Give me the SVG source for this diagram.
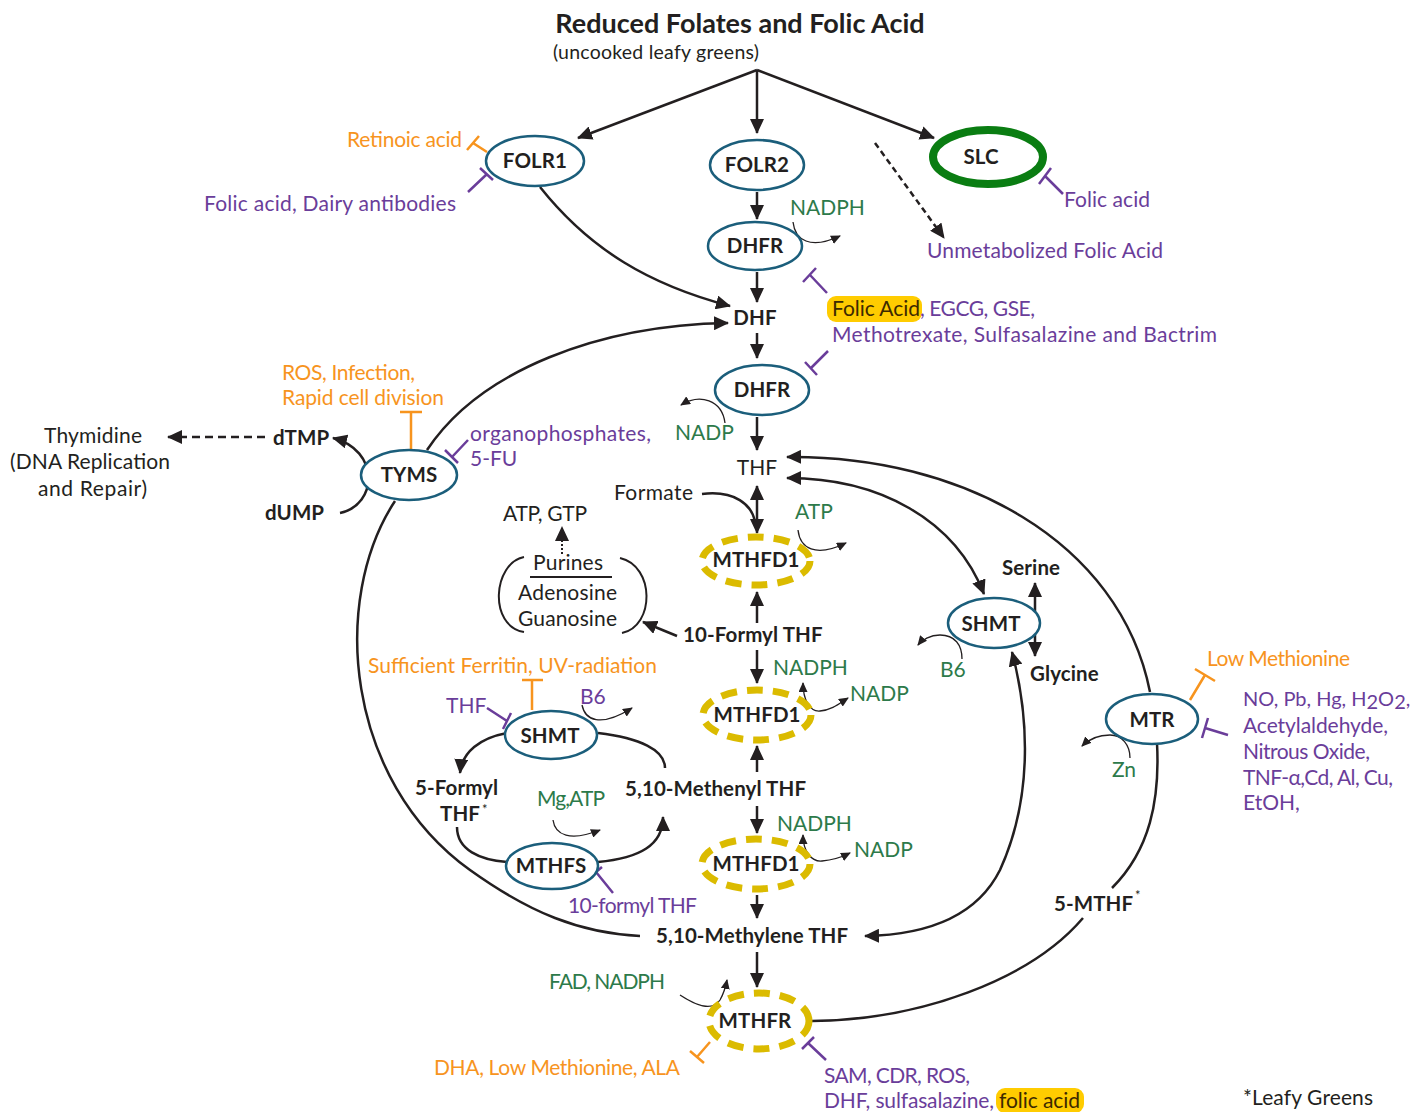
<svg xmlns="http://www.w3.org/2000/svg" width="1428" height="1112" viewBox="0 0 1428 1112">
<defs>
<style>
text{font-family:Lato,"Liberation Sans",sans-serif;font-size:21px}
.b{font-weight:700;fill:#231f20;font-size:20.5px;letter-spacing:0.1px}
.k{fill:#231f20}
.p{fill:#6a3d9a}
.g{fill:#2d7a4a}
.o{fill:#f7941e}
.h{fill:#3d2a00}
.n{fill:#fff;stroke:#1b5e7b;stroke-width:2.5}
.y{fill:#fff;stroke:#dbbb00;stroke-width:7;stroke-dasharray:16 10}
.c{fill:none;stroke:#231f20;stroke-width:2.5}
.th{fill:none;stroke:#231f20;stroke-width:1.3}
.ip{fill:none;stroke:#6a3d9a;stroke-width:2.5}
.io{fill:none;stroke:#f7941e;stroke-width:2.5}
</style>
<marker id="a" markerUnits="userSpaceOnUse" markerWidth="16" markerHeight="14" refX="14" refY="7" orient="auto-start-reverse"><path d="M0,0 L15,7 L0,14 z" fill="#231f20"/></marker>
<marker id="s" markerUnits="userSpaceOnUse" markerWidth="10" markerHeight="9" refX="9" refY="4.5" orient="auto-start-reverse"><path d="M0,0 L10,4.5 L0,9 z" fill="#231f20"/></marker>
</defs>
<rect width="1428" height="1112" fill="#fff"/>

<g id="title">
<text x="740" y="33" text-anchor="middle" class="b" style="font-size:27px;letter-spacing:0">Reduced Folates and Folic Acid</text>
<text x="553" y="59" class="k" style="font-size:19.5px" textLength="206">(uncooked leafy greens)</text>
</g>

<g id="connectors">
<path class="c" d="M757,70 L578,138" marker-end="url(#a)"/>
<path class="c" d="M757,70 L757,133" marker-end="url(#a)"/>
<path class="c" d="M757,70 L934,138" marker-end="url(#a)"/>
<path class="c" d="M875,143 L944,238" stroke-dasharray="6 4" marker-end="url(#a)"/>
<path class="c" d="M757,192 L757,219" marker-end="url(#a)"/>
<path class="c" d="M757,272 L757,302" marker-end="url(#a)"/>
<path class="c" d="M540,187 C590,250 650,285 730,306" marker-end="url(#a)"/>
<path class="c" d="M427,450 C480,370 600,325 728,323" marker-end="url(#a)"/>
<path class="c" d="M757,333 L757,358" marker-end="url(#a)"/>
<path class="c" d="M757,417 L757,450" marker-end="url(#a)"/>
<path class="c" d="M757,486 L757,533" marker-start="url(#a)" marker-end="url(#a)"/>
<path class="c" d="M702,494 C735,490 752,505 755,522"/>
<path class="c" d="M757,623 L757,592" marker-end="url(#a)"/>
<path class="c" d="M757,650 L757,683" marker-end="url(#a)"/>
<path class="c" d="M757,772 L757,746" marker-end="url(#a)"/>
<path class="c" d="M757,806 L757,833" marker-end="url(#a)"/>
<path class="c" d="M757,895 L757,918" marker-end="url(#a)"/>
<path class="c" d="M757,952 L757,987" marker-end="url(#a)"/>
<path class="c" d="M677,636 L643,622" marker-end="url(#a)"/>
<path d="M562,554 L562,527" fill="none" stroke="#231f20" stroke-width="2" stroke-dasharray="2 2" marker-end="url(#a)"/>
<path class="c" d="M787,478 C880,478 955,520 984,594" marker-start="url(#a)" marker-end="url(#a)"/>
<path class="c" d="M1150,692 C1120,540 960,455 787,457" marker-end="url(#a)"/>
<path class="c" d="M1157,743 C1160,800 1150,850 1112,888"/>
<path class="c" d="M1083,918 C1030,980 920,1020 812,1021"/>
<path class="c" d="M1012,652 C1030,720 1032,800 1000,870 C975,920 920,935 865,936" marker-start="url(#a)" marker-end="url(#a)"/>
<path class="c" d="M1035,583 L1035,656" marker-start="url(#a)" marker-end="url(#a)"/>
<path class="c" d="M395,501 C330,600 345,780 470,870 C530,913 580,933 640,936"/>
<path class="c" d="M340,513 C378,505 380,450 333,438" marker-end="url(#a)"/>
<path class="c" d="M265,437 L168,437" stroke-dasharray="8 5" marker-end="url(#a)"/>
<path class="c" d="M507,733 C480,738 462,752 460,773" marker-end="url(#a)"/>
<path class="c" d="M598,733 C640,738 665,750 665,768"/>
<path class="c" d="M457,827 C457,850 480,860 507,862"/>
<path class="c" d="M598,862 C640,858 663,845 663,817" marker-end="url(#a)"/>
<path class="c" d="M524,557 C493,563 488,626 524,632" style="stroke-width:2"/>
<path class="c" d="M620,558 C655,566 655,626 622,633" style="stroke-width:2"/>
<path class="c" d="M530,577 L612,577" style="stroke-width:2"/>
<!-- cofactor curves -->
<path class="th" d="M793,222 C795,240 810,250 840,236" marker-end="url(#s)"/>
<path class="th" d="M725,423 C722,400 700,393 681,405" marker-end="url(#s)"/>
<path class="th" d="M798,530 C800,548 815,558 846,543" marker-end="url(#s)"/>
<path class="th" d="M803,683 C803,700 810,712 820,711 C832,710 840,703 848,698" marker-start="url(#s)" marker-end="url(#s)"/>
<path class="th" d="M803,835 C803,852 812,862 822,861 C834,860 842,857 850,853" marker-start="url(#s)" marker-end="url(#s)"/>
<path class="th" d="M962,659 C962,645 955,635 940,635 C930,635 922,640 918,645" marker-end="url(#s)"/>
<path class="th" d="M582,705 C585,720 600,728 632,708" marker-end="url(#s)"/>
<path class="th" d="M553,820 C555,835 570,842 600,830" marker-end="url(#s)"/>
<path class="th" d="M1130,758 C1130,745 1122,735 1110,735 C1098,735 1088,740 1082,746" marker-end="url(#s)"/>
<path class="th" d="M680,995 C695,1005 712,1012 720,1000 C724,993 726,985 727,980" marker-end="url(#s)"/>
<!-- inhibitors -->
<path class="io" d="M487,152 L473,143 M467,150 L479,136"/>
<path class="ip" d="M468,192 L487,174 M480,168 L493,180"/>
<path class="ip" d="M1063,194 L1045,176 M1039,184 L1051,168"/>
<path class="ip" d="M827,293 L810,275 M803,282 L816,268"/>
<path class="ip" d="M828,351 L811,368 M805,362 L817,375"/>
<path class="io" d="M411,450 L411,412 M400,412 L422,412"/>
<path class="ip" d="M468,440 L452,457 M445,450 L458,463"/>
<path class="io" d="M532,710 L532,680 M522,680 L543,680"/>
<path class="ip" d="M487,708 L507,721 M503,729 L511,713"/>
<path class="ip" d="M613,893 L596,872 M590,877 L602,867"/>
<path class="io" d="M1190,700 L1205,675 M1195,669 L1215,681"/>
<path class="ip" d="M1228,735 L1205,728 M1208,718 L1202,738"/>
<path class="io" d="M710,1042 L697,1057 M690,1051 L704,1063"/>
<path class="ip" d="M826,1060 L808,1043 M802,1049 L814,1037"/>
</g>

<g id="FOLR1"><ellipse class="n" cx="535" cy="161" rx="49" ry="25"/><text x="535" y="168" text-anchor="middle" class="b">FOLR1</text></g>
<g id="FOLR2"><ellipse class="n" cx="757" cy="165" rx="47" ry="25"/><text x="757" y="172" text-anchor="middle" class="b">FOLR2</text></g>
<g id="SLC"><ellipse cx="988" cy="157" rx="55" ry="27" fill="#fff" stroke="#0a7d12" stroke-width="8"/><text x="981" y="164" text-anchor="middle" class="b">SLC</text></g>
<g id="DHFR1"><ellipse class="n" cx="755" cy="246" rx="47" ry="24"/><text x="755" y="253" text-anchor="middle" class="b">DHFR</text></g>
<g id="DHF"><text x="755" y="325" text-anchor="middle" class="b">DHF</text></g>
<g id="DHFR2"><ellipse class="n" cx="762" cy="390" rx="47" ry="25"/><text x="762" y="397" text-anchor="middle" class="b">DHFR</text></g>
<g id="THF"><text x="757" y="475" text-anchor="middle" class="k">THF</text></g>
<g id="TYMS"><ellipse class="n" cx="409" cy="475" rx="48" ry="25"/><text x="409" y="482" text-anchor="middle" class="b">TYMS</text></g>
<g id="MTHFD1a"><ellipse class="y" cx="756" cy="561" rx="54" ry="24"/><text x="756" y="567" text-anchor="middle" class="b">MTHFD1</text></g>
<g id="MTHFD1b"><ellipse class="y" cx="757" cy="715" rx="54" ry="25"/><text x="757" y="722" text-anchor="middle" class="b">MTHFD1</text></g>
<g id="MTHFD1c"><ellipse class="y" cx="756" cy="864" rx="54" ry="25"/><text x="756" y="871" text-anchor="middle" class="b">MTHFD1</text></g>
<g id="MTHFR"><ellipse class="y" cx="759" cy="1021" rx="50" ry="28"/><text x="755" y="1028" text-anchor="middle" class="b">MTHFR</text></g>
<g id="SHMT-right"><ellipse class="n" cx="994" cy="623" rx="46" ry="25"/><text x="991" y="631" text-anchor="middle" class="b">SHMT</text></g>
<g id="MTR"><ellipse class="n" cx="1152" cy="719" rx="46" ry="25"/><text x="1152" y="727" text-anchor="middle" class="b">MTR</text></g>
<g id="SHMT-left"><ellipse class="n" cx="551" cy="735" rx="46" ry="24"/><text x="550" y="743" text-anchor="middle" class="b">SHMT</text></g>
<g id="MTHFS"><ellipse class="n" cx="552" cy="866" rx="46" ry="23"/><text x="551" y="873" text-anchor="middle" class="b">MTHFS</text></g>
<g id="TenFormyl"><text x="683" y="642" class="b">10-Formyl THF</text></g>
<g id="Methenyl"><text x="625" y="796" class="b">5,10-Methenyl THF</text></g>
<g id="Methylene"><text x="656" y="943" class="b">5,10-Methylene THF</text></g>
<g id="FiveFormyl"><text x="415" y="795" class="b">5-Formyl</text><text x="440" y="821" class="b">THF</text><text x="482" y="814" class="k" style="font-size:13px">*</text></g>
<g id="FiveMTHF"><text x="1054" y="911" class="b">5-MTHF</text><text x="1135" y="900" class="k" style="font-size:13px">*</text></g>
<g id="Serine"><text x="1002" y="575" class="b">Serine</text></g>
<g id="Glycine"><text x="1030" y="681" class="b">Glycine</text></g>
<g id="dTMP"><text x="273" y="445" class="b">dTMP</text></g>
<g id="dUMP"><text x="265" y="520" class="b">dUMP</text></g>
<g id="Thymidine"><text x="44" y="443" class="k" textLength="98">Thymidine</text><text x="10" y="469" class="k" textLength="160">(DNA Replication</text><text x="38" y="496" class="k" textLength="109">and Repair)</text></g>
<g id="Purines"><text x="533" y="570" class="k" textLength="70">Purines</text><text x="518" y="600" class="k" textLength="99">Adenosine</text><text x="518" y="626" class="k" textLength="99">Guanosine</text></g>
<g id="ATPGTP"><text x="503" y="521" class="k" textLength="84">ATP, GTP</text></g>
<g id="Formate"><text x="614" y="500" class="k" textLength="79">Formate</text></g>

<g id="labels">
<text x="347" y="147" class="o" textLength="115">Retinoic acid</text>
<text x="204" y="211" class="p" textLength="252">Folic acid, Dairy antibodies</text>
<text x="1064" y="207" class="p" textLength="86">Folic acid</text>
<text x="927" y="258" class="p" textLength="236">Unmetabolized Folic Acid</text>
<text x="790" y="215" class="g">NADPH</text>
<rect x="827" y="296" width="95" height="26" rx="9" fill="#ffcc00"/>
<text x="832" y="316" class="h" textLength="88">Folic Acid</text>
<text x="920" y="316" class="p" textLength="115">, EGCG, GSE,</text>
<text x="832" y="342" class="p" textLength="385">Methotrexate, Sulfasalazine and Bactrim</text>
<text x="675" y="440" class="g">NADP</text>
<text x="282" y="380" class="o" textLength="133">ROS, Infection,</text>
<text x="282" y="405" class="o" textLength="162">Rapid cell division</text>
<text x="470" y="441" class="p" textLength="181">organophosphates,</text>
<text x="470" y="466" class="p">5-FU</text>
<text x="795" y="519" class="g">ATP</text>
<text x="368" y="673" class="o" textLength="289">Sufficient Ferritin, UV-radiation</text>
<text x="446" y="713" class="p">THF</text>
<text x="580" y="704" class="p">B6</text>
<text x="537" y="806" class="g" textLength="68">Mg,ATP</text>
<text x="568" y="913" class="p" textLength="129">10-formyl THF</text>
<text x="773" y="675" class="g">NADPH</text>
<text x="850" y="701" class="g">NADP</text>
<text x="777" y="831" class="g">NADPH</text>
<text x="854" y="857" class="g">NADP</text>
<text x="940" y="677" class="g">B6</text>
<text x="1207" y="666" class="o" textLength="143">Low Methionine</text>
<text x="1243" y="706" class="p" style="font-size:20px">NO, Pb, Hg, H<tspan dy="3">2</tspan><tspan dy="-3">O</tspan><tspan dy="3">2</tspan><tspan dy="-3">,</tspan></text>
<text x="1243" y="733" class="p" textLength="145">Acetylaldehyde,</text>
<text x="1243" y="759" class="p" textLength="127">Nitrous Oxide,</text>
<text x="1243" y="785" class="p" textLength="150">TNF-α,Cd, Al, Cu,</text>
<text x="1243" y="810" class="p">EtOH,</text>
<text x="1112" y="777" class="g">Zn</text>
<text x="549" y="989" class="g" textLength="116">FAD, NADPH</text>
<text x="434" y="1075" class="o" textLength="246">DHA, Low Methionine, ALA</text>
<text x="824" y="1083" class="p" textLength="146">SAM, CDR, ROS,</text>
<rect x="996" y="1088" width="88" height="25" rx="9" fill="#ffcc00"/>
<text x="824" y="1108" class="p" textLength="170">DHF, sulfasalazine,</text>
<text x="999" y="1108" class="h" textLength="81">folic acid</text>
<text x="1243" y="1105" class="k" textLength="130">*Leafy Greens</text>
</g>
</svg>
